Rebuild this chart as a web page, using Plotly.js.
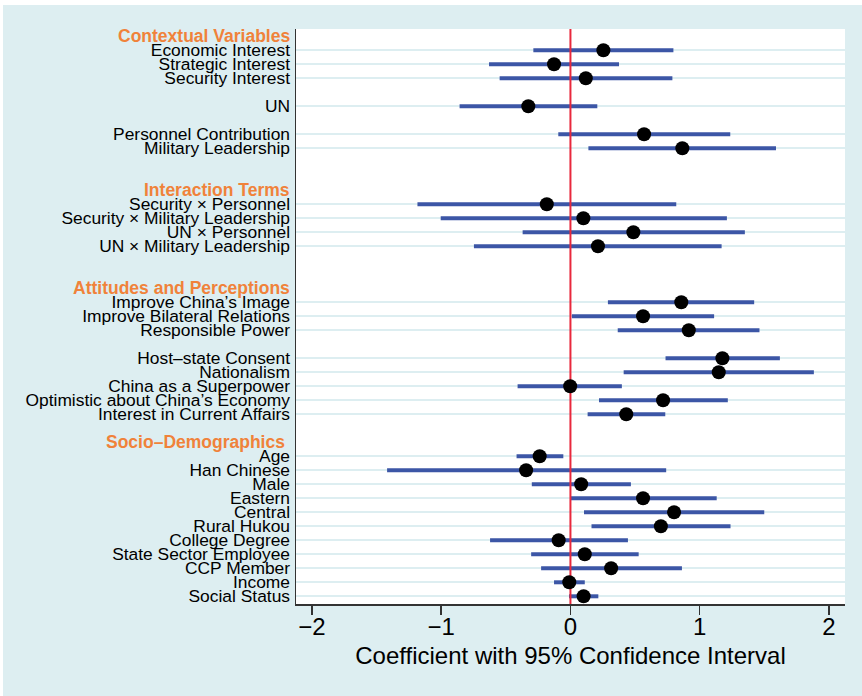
<!DOCTYPE html>
<html>
<head>
<meta charset="utf-8">
<script src="https://cdn.plot.ly/plotly-3.0.1.min.js"></script>
<style>
  html, body { margin: 0; padding: 0; background: #ffffff; }
  #chart { position: absolute; left: 3px; top: 5px; width: 859px; height: 691px; }
</style>
</head>
<body>
<div id="chart"></div>
<script>
// Rows from top to bottom: "#" prefix = group header, "" = spacer row
const rows = [
  "#Contextual Variables",
  "Economic Interest", "Strategic Interest", "Security Interest", "",
  "UN", "",
  "Personnel Contribution", "Military Leadership", "", "",
  "#Interaction Terms",
  "Security × Personnel", "Security × Military Leadership", "UN × Personnel", "UN × Military Leadership", "", "",
  "#Attitudes and Perceptions",
  "Improve China’s Image", "Improve Bilateral Relations", "Responsible Power", "",
  "Host–state Consent", "Nationalism", "China as a Superpower", "Optimistic about China’s Economy", "Interest in Current Affairs", "",
  "#Socio–Demographics\u00a0",
  "Age", "Han Chinese", "Male", "Eastern", "Central", "Rural Hukou", "College Degree",
  "State Sector Employee", "CCP Member", "Income", "Social Status"
];

// Estimates for the variables (in the order they appear in rows)
const coef = [0.255, -0.127, 0.119, -0.326, 0.570, 0.866,
              -0.183, 0.100, 0.487, 0.213,
              0.858, 0.562, 0.916, 1.176, 1.148, -0.002, 0.717, 0.432,
              -0.238, -0.343, 0.083, 0.562, 0.802, 0.700, -0.091, 0.111, 0.315, -0.009, 0.102];
const ciLow = [-0.287, -0.630, -0.548, -0.858, -0.094, 0.139,
               -1.184, -1.004, -0.370, -0.747,
               0.290, 0.011, 0.366, 0.736, 0.412, -0.409, 0.221, 0.133,
               -0.417, -1.419, -0.299, -0.002, 0.105, 0.163, -0.622, -0.304, -0.227, -0.127, -0.011];
const ciHigh = [0.797, 0.376, 0.789, 0.208, 1.237, 1.591,
                0.819, 1.211, 1.350, 1.170,
                1.422, 1.112, 1.463, 1.621, 1.884, 0.398, 1.218, 0.734,
                -0.055, 0.741, 0.468, 1.132, 1.500, 1.239, 0.445, 0.528, 0.863, 0.111, 0.216];

const xTickVals = [-2, -1, 0, 1, 2];

// Build positions from row order
const varPos = [], varLabels = [], headerPos = [], headerLabels = [];
rows.forEach((r, i) => {
  if (r.startsWith("#")) { headerPos.push(i); headerLabels.push(r.slice(1)); }
  else if (r !== "") { varPos.push(i); varLabels.push(r); }
});
const yRange = [rows.length - 1 + 0.55, -0.52];

const blue = "#3c56a6";
const traces = [
  {
    type: "scatter", mode: "markers",
    x: coef, y: varPos,
    marker: { size: 1, color: "rgba(0,0,0,0)" },
    error_x: {
      type: "data", symmetric: false,
      array: coef.map((c, i) => ciHigh[i] - c),
      arrayminus: coef.map((c, i) => c - ciLow[i]),
      color: blue, thickness: 4, width: 0
    },
    hoverinfo: "skip", showlegend: false
  },
  {
    type: "scatter", mode: "lines",
    x: [0, 0], y: yRange,
    line: { color: "#e8283c", width: 2 },
    hoverinfo: "skip", showlegend: false
  },
  {
    type: "scatter", mode: "markers",
    x: coef, y: varPos,
    marker: { size: 14, color: "#000000" },
    showlegend: false
  }
];

const font = "'Liberation Sans', Arial, Helvetica, sans-serif";
const annotations = headerPos.map((p, i) => ({
  xref: "paper", yref: "y", x: 0, y: p,
  xanchor: "right", yanchor: "middle", xshift: -4,
  text: "<b>" + headerLabels[i] + "</b>",
  showarrow: false,
  font: { family: font, size: 17.5, color: "#f0823a" }
}));

const layout = {
  width: 859, height: 691,
  margin: { l: 293, r: 17, t: 24, b: 92 },
  paper_bgcolor: "#ddeef1",
  plot_bgcolor: "#ffffff",
  font: { family: font, color: "#000000" },
  xaxis: {
    range: [-2.124, 2.125],
    tickvals: xTickVals,
    ticks: "outside", ticklen: 9, tickwidth: 1.5, tickcolor: "#333333",
    ticklabelstandoff: -8,
    showline: true, linecolor: "#333333", linewidth: 1.5,
    showgrid: false, zeroline: false,
    tickfont: { family: font, size: 24, color: "#000000" },
    title: { text: "Coefficient with 95% Confidence Interval", font: { family: font, size: 24, color: "#000000" }, standoff: 8 }
  },
  yaxis: {
    range: yRange,
    tickvals: varPos, ticktext: varLabels,
    ticks: "", ticklabelstandoff: 1,
    showline: true, linecolor: "#333333", linewidth: 1.5,
    showgrid: true, gridcolor: "#ddeef1", gridwidth: 2,
    zeroline: false,
    tickfont: { family: font, size: 17.4, color: "#000000" }
  },
  annotations: annotations
};

Plotly.newPlot("chart", traces, layout, { displayModeBar: false, staticPlot: true });
</script>
</body>
</html>
